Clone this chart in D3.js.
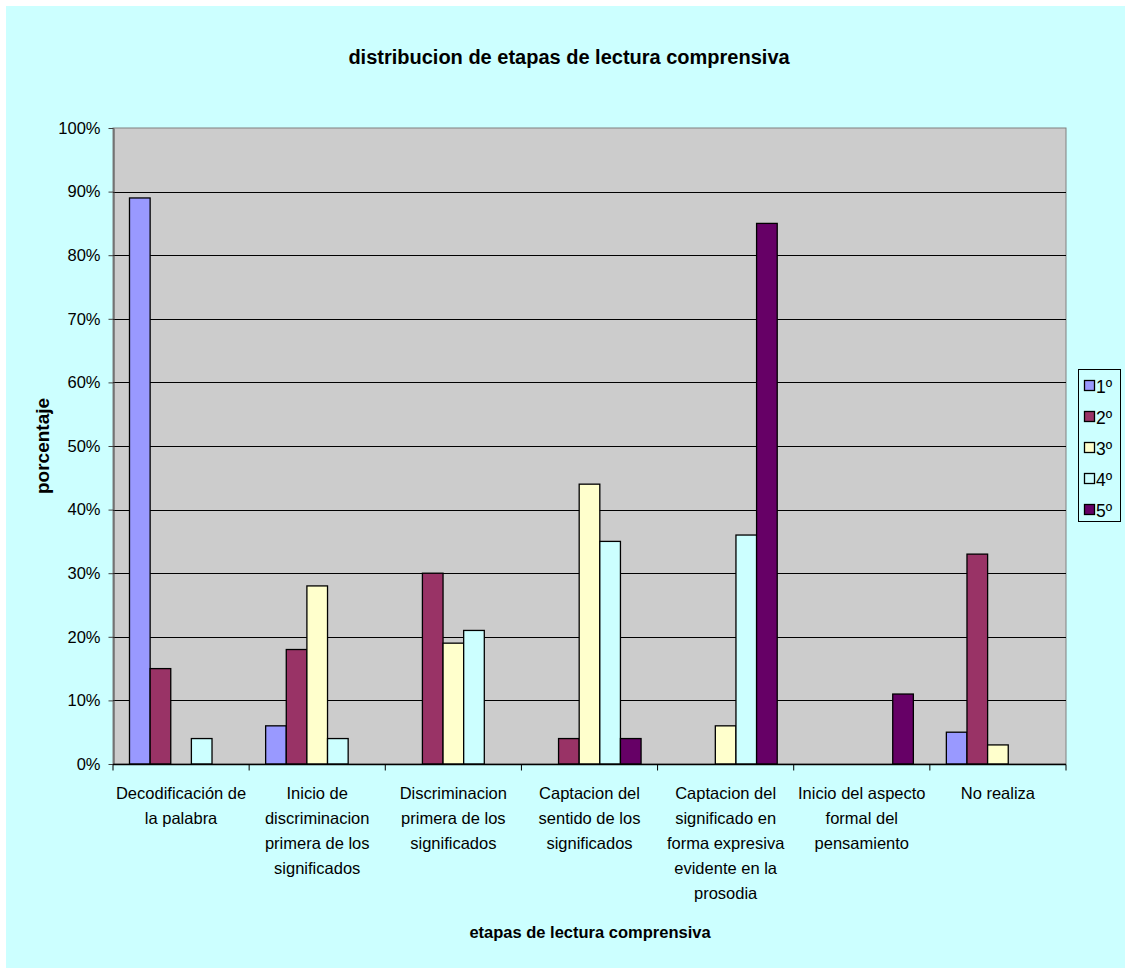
<!DOCTYPE html>
<html><head><meta charset="utf-8">
<script src="https://cdn.jsdelivr.net/npm/d3@7"></script>
<style>body{margin:0;background:#fff}svg{display:block}text{font-family:"Liberation Sans",Arial,sans-serif;fill:#000}</style>
</head><body><svg id="c" width="1126" height="969"></svg>
<script>
const categories = [
  ["Decodificación de","la palabra"],
  ["Inicio de","discriminacion","primera de los","significados"],
  ["Discriminacion","primera de los","significados"],
  ["Captacion del","sentido de los","significados"],
  ["Captacion del","significado en","forma expresiva","evidente en la","prosodia"],
  ["Inicio del aspecto","formal del","pensamiento"],
  ["No realiza"]
];
const seriesNames = ["1º","2º","3º","4º","5º"];
const seriesColors = ["#9999FF","#993366","#FFFFCC","#CCFFFF","#660066"];
const s1 = [89, 6, 0, 0, 0, 0, 5];
const s2 = [15, 18, 30, 4, 0, 0, 33];
const s3 = [0, 28, 19, 44, 6, 0, 3];
const s4 = [4, 4, 21, 35, 36, 0, 0];
const s5 = [0, 0, 0, 4, 85, 11, 0];
const seriesValues = [s1, s2, s3, s4, s5];
const yTicks = [0,10,20,30,40,50,60,70,80,90,100];

const svg = d3.select("#c");
svg.append("rect").attr("x",6).attr("y",6).attr("width",1119).attr("height",962).attr("fill","#CCFFFF");

const L=113, R=1066, T=128, B=764;
const x0 = d3.scaleBand().domain(d3.range(categories.length)).range([L,R]).paddingInner(0).paddingOuter(0);
const bw = x0.bandwidth();
const gap = 16.5;
const x1 = d3.scaleBand().domain(d3.range(seriesNames.length)).range([gap, bw-gap]).padding(0);
const y = d3.scaleLinear().domain([0,100]).range([B,T]);

svg.append("rect").attr("x",L).attr("y",T).attr("width",R-L).attr("height",B-T).attr("fill","#CCCCCC").attr("stroke","#808080").attr("stroke-width",1);

// gridlines
svg.append("g").selectAll("line").data(yTicks.filter(d=>d>0 && d<100)).join("line")
  .attr("x1",L).attr("x2",R).attr("y1",d=>Math.round(y(d))+0.5).attr("y2",d=>Math.round(y(d))+0.5)
  .attr("stroke","#000").attr("stroke-width",1);

// bars
const gBars = svg.append("g");
seriesValues.forEach((vals,si)=>{
  gBars.selectAll(null).data(vals.map((v,i)=>({v,i}))).join("rect")
    .filter(d=>d.v>0)
    .attr("x",d=>x0(d.i)+x1(si))
    .attr("y",d=>y(d.v))
    .attr("width",x1.bandwidth())
    .attr("height",d=>y(0)-y(d.v))
    .attr("fill",seriesColors[si]).attr("stroke","#000").attr("stroke-width",1.3);
});

// y axis
const yAxis = d3.axisLeft(y).tickValues(yTicks).tickFormat(d=>d+"%").tickSize(5).tickSizeOuter(0);
const gy = svg.append("g").attr("transform",`translate(${L+0.5},0)`).call(yAxis);
gy.select(".domain").attr("stroke","#404040");
gy.selectAll(".tick line").attr("stroke","#404040");
gy.selectAll(".tick text").attr("font-size",16.5).attr("font-family","Liberation Sans, Arial, sans-serif").attr("x",-13).attr("fill","#000");

// x axis
const gx = svg.append("g").attr("transform",`translate(0,${B+0.5})`);
gx.append("line").attr("x1",L).attr("x2",R).attr("stroke","#000").attr("stroke-width",1.3);
gx.selectAll("line.t").data(d3.range(categories.length+1)).join("line").attr("class","t")
  .attr("x1",i=>i<categories.length?x0(i):R).attr("x2",i=>i<categories.length?x0(i):R)
  .attr("y1",0).attr("y2",6).attr("stroke","#000");
const labels = svg.append("g");
categories.forEach((lines,i)=>{
  const t = labels.append("text").attr("text-anchor","middle").attr("font-size",16.5)
    .attr("x",x0(i)+bw/2).attr("y",799);
  lines.forEach((ln,k)=>t.append("tspan").attr("x",x0(i)+bw/2).attr("dy",k===0?0:25).text(ln));
});

// titles
svg.append("text").attr("x",569).attr("y",64).attr("text-anchor","middle").attr("font-size",20).attr("font-weight","bold")
  .text("distribucion de etapas de lectura comprensiva");
svg.append("text").attr("x",590).attr("y",938).attr("text-anchor","middle").attr("font-size",16.5).attr("font-weight","bold")
  .text("etapas de lectura comprensiva");
svg.append("text").attr("transform","translate(49,446) rotate(-90)").attr("text-anchor","middle").attr("font-size",19).attr("font-weight","bold")
  .text("porcentaje");

// legend
const lg = svg.append("g");
lg.append("rect").attr("x",1078.5).attr("y",369.5).attr("width",42).attr("height",152).attr("fill","#CCFFFF").attr("stroke","#000").attr("stroke-width",1);
seriesNames.forEach((n,i)=>{
  const cy = 386 + i*31;
  lg.append("rect").attr("x",1084.5).attr("y",cy-5.5).attr("width",10).attr("height",10).attr("fill",seriesColors[i]).attr("stroke","#000").attr("stroke-width",1.3);
  lg.append("text").attr("x",1096).attr("y",cy+6.5).attr("font-size",17.5).text(n);
});
</script></body></html>
